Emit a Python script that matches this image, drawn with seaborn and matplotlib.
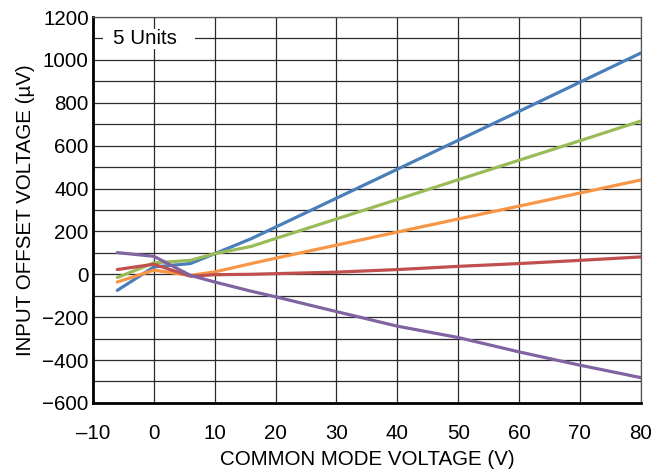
import matplotlib
matplotlib.use("Agg")
import matplotlib.pyplot as plt
import seaborn as sns
import pandas as pd
from matplotlib.ticker import MultipleLocator
from matplotlib.patches import Rectangle

# Data
vcm = [-6, 0, 6, 10, 16, 20, 30, 40, 50, 60, 70, 80]
unit1 = [-75, 34, 50, 96, 166, 220, 355, 490, 625, 760, 896, 1032]
unit2 = [-15, 53, 65, 96, 130, 167, 258, 349, 441, 532, 623, 715]
unit3 = [-36, 19, -5, 11, 50, 75, 136, 197, 258, 318, 379, 440]
unit4 = [22, 47, -9, -2, 0, 3, 10, 22, 37, 50, 65, 81]
unit5 = [101, 84, -5, -36, -79, -105, -174, -242, -295, -362, -424, -482]
units = ["Unit 1", "Unit 2", "Unit 3", "Unit 4", "Unit 5"]
colors = ["#4a7ebb", "#9bbb59", "#f79646", "#c0504d", "#8064a2"]
xticks = [-10, 0, 10, 20, 30, 40, 50, 60, 70, 80]
yticks = [-600, -400, -200, 0, 200, 400, 600, 800, 1000, 1200]

rows = []
for name, vals in zip(units, [unit1, unit2, unit3, unit4, unit5]):
    for x, y in zip(vcm, vals):
        rows.append({"vcm": x, "vos": y, "unit": name})
df = pd.DataFrame(rows)

sns.set_theme(style="white")
plt.rcParams["font.family"] = ["Liberation Sans", "DejaVu Sans"]
FS = 14.8

fig = plt.figure(figsize=(6.64, 4.74), dpi=100)
ax = fig.add_axes([0.140, 0.150, 0.825, 0.814])

sns.lineplot(data=df, x="vcm", y="vos", hue="unit", palette=colors,
             linewidth=2.3, legend=False, ax=ax, sort=False)

ax.set_xlim(-10, 80)
ax.set_ylim(-600, 1200)
ax.set_xticks(xticks)
ax.set_yticks(yticks)
ax.set_xticklabels(["\u201310" if t == -10 else str(t) for t in xticks])
ax.set_yticklabels([("\u2212" + str(-t)) if t < 0 else str(t) for t in yticks])
ax.yaxis.set_minor_locator(MultipleLocator(100))
ax.xaxis.set_minor_locator(MultipleLocator(10))
ax.grid(True, which="both", color="#2a2a2a", linewidth=0.9)
ax.set_axisbelow(True)

ax.tick_params(axis="both", which="both", length=0, labelsize=FS, colors="black")
ax.tick_params(axis="x", pad=15)
ax.tick_params(axis="y", pad=3)

for s in ["left", "bottom"]:
    ax.spines[s].set_color("black")
    ax.spines[s].set_linewidth(2.0)
for s in ["top", "right"]:
    ax.spines[s].set_color("#555555")
    ax.spines[s].set_linewidth(0.9)

ax.set_xlabel("COMMON MODE VOLTAGE (V)", fontsize=FS, labelpad=5, color="black")
ax.set_ylabel("INPUT OFFSET VOLTAGE (\u00b5V)", fontsize=FS, labelpad=5, color="black")

ax.add_patch(Rectangle((0.018, 0.918), 0.168, 0.052, transform=ax.transAxes,
                       facecolor="white", edgecolor="none", zorder=4))
ax.text(0.0365, 0.944, "5 Units", fontsize=FS, ha="left", va="center",
        transform=ax.transAxes, zorder=5, color="black")

fig.savefig("out.png", dpi=100)
